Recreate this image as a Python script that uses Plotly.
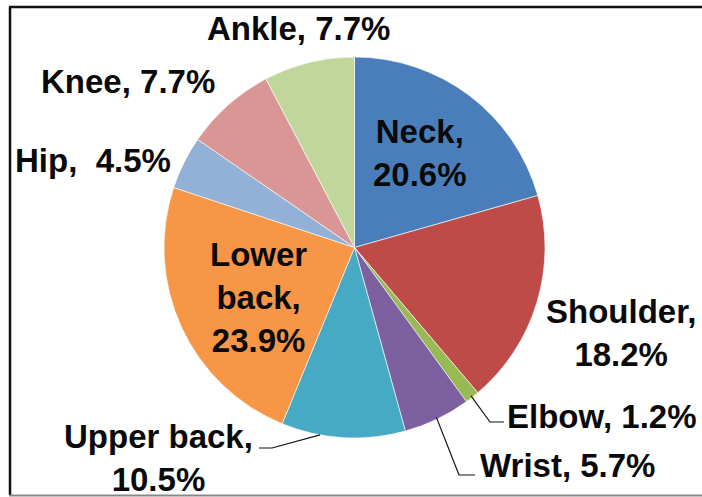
import math
import plotly.graph_objects as go

# ---- data ----
parts = ["Neck", "Shoulder", "Elbow", "Wrist", "Upper back", "Lower back", "Hip", "Knee", "Ankle"]
shares = [20.6, 18.2, 1.2, 5.7, 10.5, 23.9, 4.5, 7.7, 7.7]
colors = ["#4A7EBB", "#BE4B48", "#98B954", "#7D60A0", "#46AAC5",
          "#F79646", "#93B1D7", "#D99694", "#C0D69B"]
label_texts = ["Neck,<br>20.6%", "Shoulder,<br>18.2%", "Elbow, 1.2%", "Wrist, 5.7%",
               "Upper back,<br>10.5%", "Lower<br>back,<br>23.9%", "Hip,  4.5%",
               "Knee, 7.7%", "Ankle, 7.7%"]

W, H = 702, 497
# pie geometry in pixels (layout)
cx, cy, R = 354.5, 247.5, 190.5

def px(x):
    return x / W

def py(y):
    return 1 - y / H

fig = go.Figure(go.Pie(
    labels=parts, values=shares, sort=False, direction="clockwise", rotation=0,
    marker=dict(colors=colors, line=dict(color="rgba(255,255,255,0.6)", width=1)),
    textinfo="none", hoverinfo="label+percent", showlegend=False,
    domain=dict(x=[px(cx - R), px(cx + R)], y=[py(cy + R), py(cy - R)]),
))

# label positions (pixel centres) - layout only
label_pos = {
    "Neck": (420, 153),
    "Shoulder": (621, 333),
    "Elbow": (602, 416),
    "Wrist": (567, 465),
    "Upper back": (158, 458),
    "Lower back": (258, 297),
    "Hip": (93, 160),
    "Knee": (128, 82),
    "Ankle": (298, 28),
}

annotations = []
for name, txt in zip(parts, label_texts):
    x, y = label_pos[name]
    annotations.append(dict(
        x=px(x), y=py(y), xref="paper", yref="paper", text=txt, showarrow=False,
        xanchor="center", yanchor="middle", align="center",
        font=dict(family="Liberation Sans, Arial, sans-serif", size=33, color="#0a0a0a", weight="bold"),
    ))

# leader lines: start at slice mid-angle on the pie edge
cum = 0.0
mid_angles = {}
total = sum(shares)
for name, v in zip(parts, shares):
    mid_angles[name] = (cum + v / 2) / total * 360.0
    cum += v

def edge_point(name, frac=1.0, shift=0.0):
    a = math.radians(mid_angles[name] + shift)
    return cx + R * frac * math.sin(a), cy - R * frac * math.cos(a)

shapes = []
leaders = {
    "Elbow": ((0.99, 0.0), [(490, 422), (504, 422)]),
    "Wrist": ((0.99, 0.0), [(459, 475), (475, 475)]),
    "Upper back": ((1.0, 7.0), [(272, 448), (259, 448)]),
}
for name, ((frac, shift), pts) in leaders.items():
    sx, sy = edge_point(name, frac, shift)
    path = "M {} {}".format(px(sx), py(sy))
    for (x, y) in pts:
        path += " L {} {}".format(px(x), py(y))
    shapes.append(dict(type="path", xref="paper", yref="paper", path=path,
                       line=dict(color="#111111", width=1.2)))

# outer frame
shapes.append(dict(type="line", xref="paper", yref="paper", x0=px(10), x1=px(10), y0=py(7), y1=py(495),
                   line=dict(color="#111111", width=2.5)))
shapes.append(dict(type="line", xref="paper", yref="paper", x0=px(9), x1=px(702), y0=py(7), y1=py(7),
                   line=dict(color="#111111", width=2.5)))
shapes.append(dict(type="line", xref="paper", yref="paper", x0=px(9), x1=px(702), y0=py(495.5), y1=py(495.5),
                   line=dict(color="#888888", width=2)))

fig.update_layout(
    width=W, height=H, margin=dict(l=0, r=0, t=0, b=0),
    paper_bgcolor="white", plot_bgcolor="white",
    annotations=annotations, shapes=shapes,
)

fig.write_html("out.html")
